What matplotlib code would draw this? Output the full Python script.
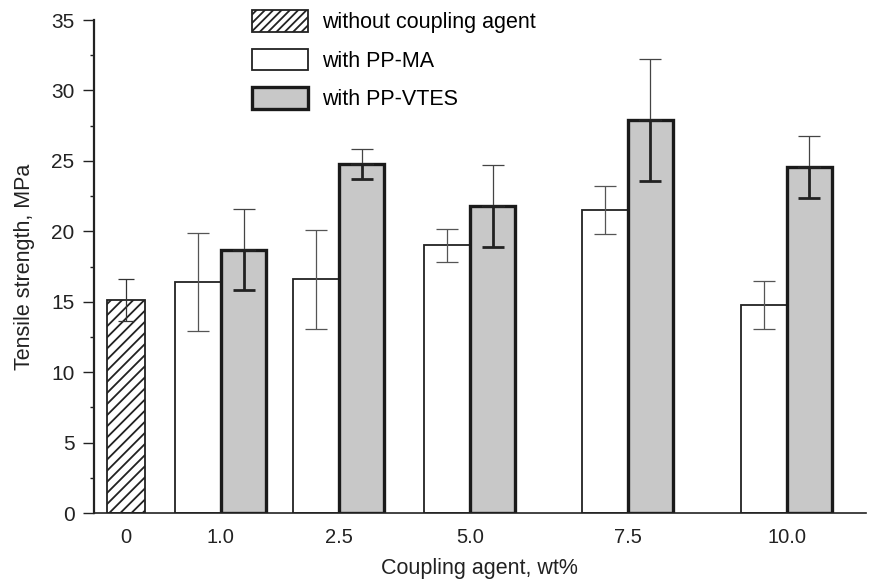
import numpy as np
import matplotlib.pyplot as plt
from matplotlib.patches import Patch

plt.rcParams['font.family'] = ['Liberation Sans', 'DejaVu Sans']

# data (MPa)
group_labels = ['0', '1.0', '2.5', '5.0', '7.5', '10.0']

plain_mean = [15.1]
plain_err = [1.5]

ma_mean = [16.4, 16.6, 19.0, 21.5, 14.8]
ma_err = [3.5, 3.5, 1.2, 1.7, 1.7]

vtes_mean = [18.7, 24.8, 21.8, 27.9, 24.6]
vtes_err = [2.9, 1.05, 2.9, 4.35, 2.2]

# layout: uneven spacing of the groups as in the original figure
group_pos = np.array([0, 0.95, 2.13, 3.44, 5.02, 6.61])
w = 0.455

fig = plt.figure(figsize=(8.7, 5.83), dpi=100)
ax = fig.add_axes([0.108, 0.12, 0.887, 0.8456])

plt.rcParams['hatch.linewidth'] = 1.3
ax.bar(group_pos[:1], plain_mean, width=0.38, color='white', edgecolor='#222222',
       hatch='///', linewidth=1.3, zorder=2)
ax.bar(group_pos[1:] - w / 2, ma_mean, width=w, color='white', edgecolor='#222222',
       linewidth=1.3, zorder=2)
ax.bar(group_pos[1:] + w / 2, vtes_mean, width=w, color='#c8c8c8', edgecolor='#1a1a1a',
       linewidth=2.4, zorder=2)

# error bars
ax.errorbar(group_pos[:1], plain_mean, yerr=plain_err, fmt='none', ecolor='#333333',
            elinewidth=0.9, capsize=6, capthick=0.9, zorder=3)
ax.errorbar(group_pos[1:] - w / 2, ma_mean, yerr=ma_err, fmt='none', ecolor='#555555',
            elinewidth=0.9, capsize=8, capthick=0.9, zorder=3)
zeros = np.zeros(len(vtes_err))
ax.errorbar(group_pos[1:] + w / 2, vtes_mean, yerr=[zeros, vtes_err], fmt='none',
            ecolor='#444444', elinewidth=0.9, capsize=8, capthick=0.9, zorder=3)
ax.errorbar(group_pos[1:] + w / 2, vtes_mean, yerr=[vtes_err, zeros], fmt='none',
            ecolor='#222222', elinewidth=2.0, capsize=8, capthick=2.0, zorder=3)

ax.set_xlim(-0.32, 7.4)
ax.set_ylim(0, 35)
ax.set_xticks(group_pos)
ax.set_xticklabels(group_labels)
ax.set_yticks(np.arange(0, 36, 5))
ax.set_yticks(np.arange(2.5, 35, 5), minor=True)
ax.tick_params(axis='x', length=0, pad=11, labelsize=14.5, colors='#222222')
ax.tick_params(axis='y', which='major', length=8, width=1, pad=6, labelsize=15,
               colors='#222222')
ax.tick_params(axis='y', which='minor', length=3, width=1, colors='#222222')

for s in ['top', 'right']:
    ax.spines[s].set_visible(False)
ax.spines['left'].set_linewidth(1.6)
ax.spines['bottom'].set_linewidth(1.2)
ax.spines['left'].set_color('#222222')
ax.spines['bottom'].set_color('#222222')

ax.set_xlabel('Coupling agent, wt%', fontsize=15.5, color='#222222', labelpad=8)
ax.set_ylabel('Tensile strength, MPa', fontsize=15.5, color='#222222')
ax.yaxis.set_label_coords(-0.076, 0.5)

handles = [
    Patch(facecolor='white', edgecolor='#222222', hatch='////', linewidth=1.3),
    Patch(facecolor='white', edgecolor='#222222', linewidth=1.3),
    Patch(facecolor='#c8c8c8', edgecolor='#1a1a1a', linewidth=2.4),
]
ax.legend(handles, ['without coupling agent', 'with PP-MA', 'with PP-VTES'],
          loc='upper left', bbox_to_anchor=(0.2897, 0.982),
          bbox_transform=fig.transFigure, frameon=False, fontsize=15.5,
          handlelength=2.6, handleheight=1.15, labelspacing=0.72,
          handletextpad=0.65, borderpad=0, borderaxespad=0)

fig.savefig('out.png', dpi=100)
